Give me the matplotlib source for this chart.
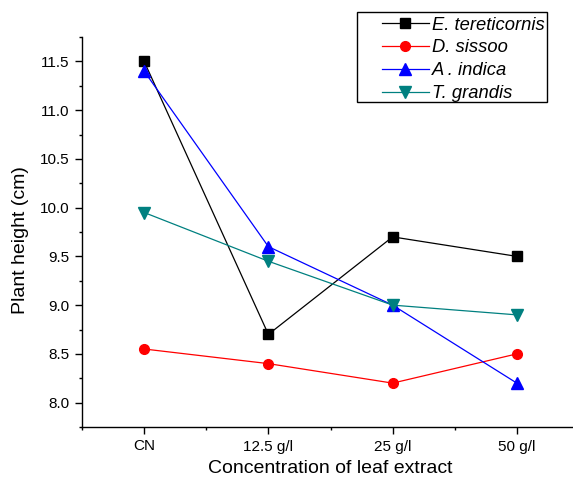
import matplotlib
matplotlib.use("Agg")
import matplotlib.pyplot as plt
from matplotlib.ticker import MultipleLocator
from matplotlib.patches import Rectangle

plt.rcParams['font.family'] = ['Liberation Sans', 'DejaVu Sans']

# data
groups = ['CN', '12.5 g/l', '25 g/l', '50 g/l']
e_tereticornis = [11.5, 8.7, 9.7, 9.5]
d_sissoo = [8.55, 8.4, 8.2, 8.5]
a_indica = [11.4, 9.6, 9.0, 8.2]
t_grandis = [9.95, 9.45, 9.0, 8.9]

x = list(range(len(groups)))

fig = plt.figure(figsize=(5.73, 4.84), dpi=100)
ax = fig.add_axes([82 / 573, 1 - 427 / 484, 497 / 573, (427 - 37) / 484])

ax.plot(x, e_tereticornis, color='black', lw=0.9, marker='s', ms=6.5, label='E. tereticornis')
ax.plot(x, d_sissoo, color='red', lw=0.9, marker='o', ms=7, label='D. sissoo')
ax.plot(x, a_indica, color='blue', lw=0.9, marker='^', ms=8, label='A . indica')
ax.plot(x, t_grandis, color='#008080', lw=0.9, marker='v', ms=8, label='T. grandis')

ax.set_xlim(-0.5, 3.5)
ax.set_ylim(7.75, 11.75)
ax.set_xticks(x)
ax.set_xticklabels(groups)
ax.xaxis.set_minor_locator(MultipleLocator(0.5))
ax.yaxis.set_major_locator(MultipleLocator(0.5))
ax.yaxis.set_minor_locator(MultipleLocator(0.25))
ax.yaxis.set_major_formatter(matplotlib.ticker.FormatStrFormatter('%.1f'))

for s in ['top', 'right']:
    ax.spines[s].set_visible(False)
for s in ['left', 'bottom']:
    ax.spines[s].set_linewidth(1.0)

ax.tick_params(which='major', direction='out', length=5, width=1, labelsize=11, pad=4)
ax.tick_params(which='minor', direction='out', length=2.5, width=1)

ax.set_xlabel('Concentration of leaf extract', fontsize=14, labelpad=5)
ax.set_ylabel('Plant height (cm)', fontsize=14)
ax.yaxis.set_label_coords(-0.106, 0.479)

leg = ax.legend(loc='upper left', bbox_to_anchor=(377 / 573, 1 - 12 / 484),
                bbox_transform=fig.transFigure, borderaxespad=0,
                frameon=False,
                prop={'style': 'italic', 'size': 13.2},
                handlelength=2.6, handletextpad=0.15, labelspacing=0.32,
                borderpad=0.25)
# legend frame as drawn in the original (wide left margin)
fig.patches.append(Rectangle((357 / 573, 1 - 102 / 484), 190 / 573, 90 / 484,
                             transform=fig.transFigure, fill=False,
                             edgecolor='black', lw=1.0, zorder=5))

fig.savefig('out.png', dpi=100)
